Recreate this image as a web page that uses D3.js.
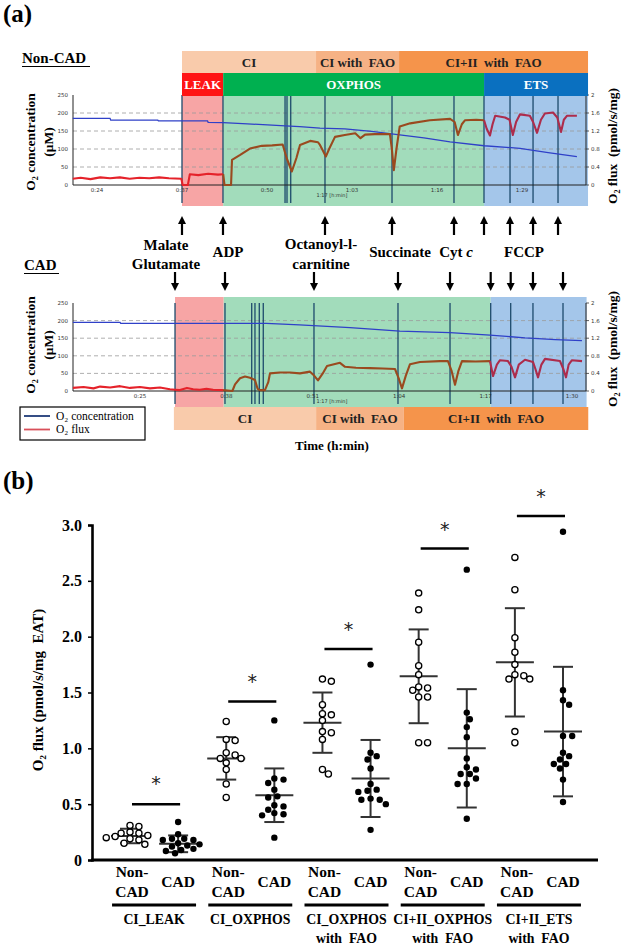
<!DOCTYPE html>
<html><head><meta charset="utf-8">
<script src="https://cdn.jsdelivr.net/npm/d3@7"></script>
<style>body{margin:0;background:#fff}svg{display:block}</style>
</head><body>
<svg id="c" width="625" height="945"></svg>
<script>
// ---------------- Panel (a) data (time in minutes) ----------------
const concTicks = [0, 50, 100, 150, 200, 250];
const fluxTicks = [0, 0.4, 0.8, 1.2, 1.6, 2];

// Non-CAD trace
const topTimeTicks = [24, 37, 50, 63, 76, 89];
const topConc = [[20.3,185],[26.0,185],[26.1,180],[33.3,180],[33.4,178],[40.9,178],[41.0,174],[43.3,173],[47,170],[52.8,164],[55.0,162],[58.1,158],[61.9,156],[66,149],[70.3,139],[74,131],[78.0,120],[83.2,109],[88.7,102],[93,90],[97.4,79]];
const topFluxLeak = [[20.3,0.14],[21.5,0.16],[23,0.13],[24.5,0.17],[26,0.15],[27.5,0.17],[29,0.14],[30.5,0.16],[32,0.15],[33.5,0.17],[35,0.15],[36.9,0.14],[37.1,0.0],[37.9,0.0],[38.2,0.24],[39.5,0.22],[41,0.25],[42.5,0.23],[43.3,0.24]];
const topFluxOxphos = [[43.3,0.24],[43.5,0.0],[44.5,0.0],[44.65,0.56],[45.9,0.67],[47.4,0.81],[49.2,0.87],[50.8,0.88],[52.4,0.90],[53.0,0.6],[53.8,0.30],[54.5,0.6],[55.05,0.89],[56.6,0.98],[57.8,0.95],[58.1,0.89],[58.6,0.75],[59.0,0.63],[59.5,0.8],[60.4,1.07],[61.9,1.11],[63.5,1.15],[64.3,1.04],[65.0,1.12],[66.5,1.13],[68.8,1.13],[69.1,0.8],[69.4,0.33],[69.8,0.8],[70.3,1.30],[71.9,1.37],[74.9,1.44],[78.0,1.47],[78.7,1.40],[79.2,1.11],[79.8,1.35],[80.3,1.44],[82,1.45],[83.2,1.44]];
const topFluxEts = [[83.2,1.44],[83.6,1.25],[84.1,1.10],[84.5,1.35],[84.9,1.54],[86.4,1.50],[87.1,1.45],[87.6,1.11],[88.1,1.40],[88.7,1.57],[90.2,1.54],[90.7,1.40],[91.3,1.16],[91.9,1.45],[92.5,1.59],[93.75,1.61],[94.4,1.50],[94.97,1.18],[95.4,1.45],[95.9,1.54],[97.4,1.54]];
const topEvents = [37.0, 43.27, 58.87, 69.12, 78.60, 83.19, 87.17, 90.69, 94.51];
const topExtraEvents = [52.76, 53.06, 53.63];
const topPhaseBounds = [37.0, 43.3, 83.2, 99.1];
const topBandBounds = [37.0, 57.5, 70.2, 99.1];

// CAD trace
const botTimeTicks = [25, 38, 51, 64, 77, 90];
const botConc = [[14.9,195],[22,195],[22.1,192],[44,192],[46.5,190],[49,188],[56.6,180],[64.1,170],[71.65,166],[77.66,159],[82.93,151],[87.5,146],[91.5,143]];
const botFluxLeak = [[14.9,0.07],[16.5,0.09],[18,0.06],[19,0.10],[20.5,0.08],[22,0.11],[23.5,0.07],[25,0.09],[26.5,0.06],[28,0.08],[29.5,0.04],[30.3,0.03],[31,0.02],[32.07,0.07],[33,0.04],[34,0.03],[35,0.05],[36,0.03],[37.5,0.02]];
const botFluxOxphos = [[37.5,0.02],[38.9,0.0],[39.3,0.15],[40.05,0.29],[40.8,0.33],[41.55,0.30],[42.3,0.25],[42.7,0.05],[43.06,0.02],[43.8,0.02],[44.3,0.2],[44.56,0.40],[46,0.42],[47.57,0.42],[49.07,0.40],[50.58,0.44],[51.2,0.35],[51.78,0.24],[52.5,0.4],[53.14,0.57],[55.09,0.64],[55.85,0.55],[57.5,0.53],[59.61,0.52],[61.5,0.51],[63.37,0.50],[63.9,0.3],[64.42,0.06],[65,0.35],[65.63,0.61],[67.13,0.66],[70.14,0.68],[71.34,0.68],[71.9,0.45],[72.4,0.14],[72.9,0.45],[73.45,0.68],[75.5,0.67],[77.66,0.68]];
const botFluxEts = [[77.66,0.68],[78.12,0.34],[78.7,0.6],[79.17,0.70],[80.37,0.68],[80.9,0.55],[81.43,0.31],[82,0.6],[82.93,0.71],[84.13,0.66],[84.5,0.5],[84.89,0.31],[85.4,0.6],[85.94,0.73],[88.2,0.68],[88.7,0.5],[89.1,0.31],[89.5,0.6],[90,0.70],[91.51,0.68]];
const botEvents = [30.27, 37.79, 51.18, 63.82, 71.65, 77.77, 80.78, 84.13, 88.65];
const botExtraEvents = [41.81, 42.30, 42.95, 43.55];
const botPhaseBounds = [30.27, 37.6, 77.77, 92.2];
const botBandBounds = [30.1, 51.5, 64.7, 92.45];

const phaseNames = ["LEAK", "OXPHOS", "ETS"];
const bandNames = ["CI", "CI with  FAO", "CI+II  with  FAO"];

// ---------------- Panel (b) data ----------------
const groupLine1 = ["CI_LEAK", "CI_OXPHOS", "CI_OXPHOS", "CI+II_OXPHOS", "CI+II_ETS"];
const groupLine2 = ["", "", "with  FAO", "with  FAO", "with  FAO"];
const nonCadValues = [
  [0.31,0.30,0.25,0.24,0.24,0.22,0.21,0.20,0.19,0.18,0.15,0.14],
  [1.24,1.08,1.07,0.96,0.94,0.91,0.91,0.87,0.81,0.68,0.56],
  [1.62,1.60,1.39,1.31,1.30,1.25,1.15,1.14,1.08,0.81,0.77],
  [2.39,2.24,1.95,1.74,1.66,1.55,1.54,1.52,1.46,1.46,1.05,1.05],
  [2.71,2.42,1.99,1.86,1.75,1.66,1.65,1.62,1.62,1.15,1.05]
];
const cadValues = [
  [0.34,0.23,0.19,0.19,0.18,0.18,0.15,0.14,0.13,0.12,0.10,0.09,0.08,0.06],
  [1.25,0.73,0.72,0.69,0.63,0.57,0.56,0.49,0.48,0.45,0.42,0.41,0.40,0.20],
  [1.75,0.96,0.93,0.90,0.82,0.68,0.63,0.62,0.61,0.55,0.54,0.54,0.50,0.27],
  [2.60,1.32,1.26,1.19,1.10,0.91,0.83,0.81,0.77,0.77,0.73,0.68,0.68,0.37],
  [2.94,1.52,1.43,1.39,1.11,1.11,0.96,0.93,0.90,0.86,0.86,0.82,0.72,0.52]
];
const nonCadMean = [0.215, 0.91, 1.23, 1.645, 1.77];
const nonCadSD   = [0.065, 0.19, 0.27, 0.42, 0.485];
const cadMean    = [0.145, 0.58, 0.73, 1.00, 1.15];
const cadSD      = [0.075, 0.24, 0.345, 0.53, 0.58];
const sigBar     = [0.50, 1.42, 1.89, 2.79, 3.08];
const sigStar    = [0.72, 1.63, 2.10, 2.99, 3.29];
const yTicksB    = [0, 0.5, 1.0, 1.5, 2.0, 2.5, 3.0];

// ---------------- Drawing ----------------
const SERIF = 'Liberation Serif, Times New Roman, Times, serif';
const SANS = 'DejaVu Sans, sans-serif';
const svg = d3.select('#c');
svg.append('rect').attr('width', 625).attr('height', 945).attr('fill', '#fff');

function fmtTime(t) { return Math.floor(t / 60) + ':' + String(t % 60).padStart(2, '0'); }

const shadeCols = ['#f7a5a5', '#a2dcbb', '#a4c6ea'];
const headerCols = ['#ff1414', '#00b050', '#0a70c0'];
const bandCols = ['#f9cbab', '#f6b285', '#f5944b'];
const fluxCols = ['#e5222a', '#9a4a1f', '#ad2c4c'];
const concCol = '#2f40c8';
const eventCol = '#1d4a6c';

function drawTrace(c) {
  const g = svg.append('g');
  const x = d3.scaleLinear().domain(c.tDomain).range([73, 586]);
  const yC = d3.scaleLinear().domain([0, 250]).range([c.yBase, c.yTop]);
  const yF = d3.scaleLinear().domain([0, 2]).range([c.yBase, c.yTop]);
  for (let i = 0; i < 3; i++) {
    g.append('rect').attr('x', x(c.phases[i])).attr('y', c.shadeTop)
      .attr('width', x(c.phases[i + 1]) - x(c.phases[i])).attr('height', c.shadeBottom - c.shadeTop)
      .attr('fill', shadeCols[i]);
  }
  g.selectAll('.grid').data(concTicks.slice(1, 5)).join('line')
    .attr('x1', 73).attr('x2', 586).attr('y1', d => yC(d)).attr('y2', d => yC(d))
    .attr('stroke', '#9a9a9a').attr('stroke-width', 0.8).attr('stroke-dasharray', '4,3');
  g.selectAll('.ev').data(c.events.concat(c.extra)).join('line')
    .attr('x1', d => x(d)).attr('x2', d => x(d)).attr('y1', c.yTop).attr('y2', c.shadeBottom - 3)
    .attr('stroke', eventCol).attr('stroke-width', 1.3);
  g.append('line').attr('x1', 73).attr('x2', 73).attr('y1', c.yTop).attr('y2', c.yBase).attr('stroke', '#222').attr('stroke-width', 1);
  g.append('line').attr('x1', 586).attr('x2', 586).attr('y1', c.yTop).attr('y2', c.yBase).attr('stroke', '#222').attr('stroke-width', 1);
  g.append('line').attr('x1', 73).attr('x2', 586).attr('y1', c.yBase).attr('y2', c.yBase).attr('stroke', '#222').attr('stroke-width', 1);
  g.selectAll('.lt').data(concTicks).join('text')
    .attr('x', 68).attr('y', d => yC(d) + 2).attr('text-anchor', 'end')
    .attr('font-family', SANS).attr('font-size', 5.5).attr('fill', '#333').text(d => d);
  g.selectAll('.rt').data(fluxTicks).join('text')
    .attr('x', 591).attr('y', d => yF(d) + 2).attr('text-anchor', 'start')
    .attr('font-family', SANS).attr('font-size', 5.5).attr('fill', '#333').text(d => d);
  g.selectAll('.rtk').data(fluxTicks).join('line')
    .attr('x1', 586).attr('x2', 589).attr('y1', d => yF(d)).attr('y2', d => yF(d)).attr('stroke', '#333').attr('stroke-width', 0.8);
  g.selectAll('.tt').data(c.timeTicks).join('text')
    .attr('x', d => x(d)).attr('y', c.yBase + 7).attr('text-anchor', 'middle')
    .attr('font-family', SANS).attr('font-size', 5.5).attr('fill', '#333').text(d => fmtTime(d));
  g.append('text').attr('x', 332).attr('y', c.yBase + 12).attr('text-anchor', 'middle')
    .attr('font-family', SANS).attr('font-size', 5).attr('fill', '#333').text('1:17 [h:min]');
  const lineC = d3.line().x(d => x(d[0])).y(d => yC(d[1]));
  const lineF = d3.line().x(d => x(d[0])).y(d => yF(d[1]));
  g.append('path').attr('d', lineC(c.conc)).attr('fill', 'none').attr('stroke', concCol).attr('stroke-width', 1.3);
  c.flux.forEach((f, i) => {
    g.append('path').attr('d', lineF(f)).attr('fill', 'none').attr('stroke', fluxCols[i])
      .attr('stroke-width', 2.1).attr('stroke-linejoin', 'round');
  });
  g.append('text').attr('transform', `translate(35,${c.titleY}) rotate(-90)`)
    .attr('text-anchor', 'middle').attr('font-family', SERIF).attr('font-weight', 'bold').attr('font-size', 13.5)
    .text('O₂ concentration');
  g.append('text').attr('transform', `translate(53,${c.titleY}) rotate(-90)`)
    .attr('text-anchor', 'middle').attr('font-family', SERIF).attr('font-weight', 'bold').attr('font-size', 13.5).text('(μM)');
  g.append('text').attr('transform', `translate(617,${c.titleY + 4}) rotate(-90)`)
    .attr('text-anchor', 'middle').attr('font-family', SERIF).attr('font-weight', 'bold').attr('font-size', 13.5)
    .style('white-space', 'pre').text('O₂ flux  (pmol/s/mg)');
  function bandRow(bounds, names, cols, y0, y1, txtCol) {
    for (let i = 0; i < names.length; i++) {
      g.append('rect').attr('x', x(bounds[i])).attr('y', y0).attr('width', x(bounds[i + 1]) - x(bounds[i]))
        .attr('height', y1 - y0).attr('fill', cols[i]);
      g.append('text').attr('x', (x(bounds[i]) + x(bounds[i + 1])) / 2).attr('y', (y0 + y1) / 2 + 4.5)
        .attr('text-anchor', 'middle').attr('font-family', SERIF).attr('font-weight', 'bold')
        .attr('font-size', 13).attr('fill', txtCol).style('white-space', 'pre').text(names[i]);
    }
  }
  if (c.header) bandRow(c.phases, phaseNames, headerCols, c.header[0], c.header[1], '#fff');
  bandRow(c.bands, bandNames, bandCols, c.bandY[0], c.bandY[1], '#222');
  return x;
}

const xTop = drawTrace({ tDomain: [20.33, 98.79], yBase: 185, yTop: 95, shadeTop: 96, shadeBottom: 206,
  phases: topPhaseBounds, bands: topBandBounds, bandY: [51, 73], header: [73, 96],
  events: topEvents, extra: topExtraEvents, timeTicks: topTimeTicks, conc: topConc,
  flux: [topFluxLeak, topFluxOxphos, topFluxEts], titleY: 142 });
const xBot = drawTrace({ tDomain: [14.92, 92.11], yBase: 391, yTop: 303, shadeTop: 297, shadeBottom: 407,
  phases: botPhaseBounds, bands: botBandBounds, bandY: [407, 430], header: null,
  events: botEvents, extra: botExtraEvents, timeTicks: botTimeTicks, conc: botConc,
  flux: [botFluxLeak, botFluxOxphos, botFluxEts], titleY: 345 });

function arrow(xp, yTail, yTip) {
  const dir = yTip < yTail ? -1 : 1;
  svg.append('line').attr('x1', xp).attr('x2', xp).attr('y1', yTail).attr('y2', yTip - dir * 5)
    .attr('stroke', '#000').attr('stroke-width', 2.2);
  svg.append('path').attr('d', `M${xp},${yTip} L${xp - 4},${yTip - dir * 8} L${xp + 4},${yTip - dir * 8} Z`).attr('fill', '#000');
}
topEvents.forEach(t => arrow(xTop(t), 235, 216));
botEvents.forEach(t => arrow(xBot(t), 272, 291));

function label(xp, yp, txt, size, anchor) {
  return svg.append('text').attr('x', xp).attr('y', yp).attr('text-anchor', anchor || 'middle')
    .attr('font-family', SERIF).attr('font-weight', 'bold').attr('font-size', size).attr('fill', '#000').text(txt);
}
label(3, 22, '(a)', 25, 'start');
label(22, 63, 'Non-CAD', 15, 'start');
svg.append('line').attr('x1', 22).attr('x2', 90).attr('y1', 66.5).attr('y2', 66.5).attr('stroke', '#000').attr('stroke-width', 1.2);
label(24, 270, 'CAD', 15, 'start');
svg.append('line').attr('x1', 24).attr('x2', 59).attr('y1', 273.5).attr('y2', 273.5).attr('stroke', '#000').attr('stroke-width', 1.2);
label(166, 250, 'Malate', 15);
label(166, 269, 'Glutamate', 15);
label(228, 257, 'ADP', 15);
label(321, 249, 'Octanoyl-l-', 15);
label(321, 269, 'carnitine', 15);
label(400, 257, 'Succinate', 15);
const cyt = label(456, 257, 'Cyt ', 15).style('white-space', 'pre');
cyt.append('tspan').attr('font-style', 'italic').text('c');
label(524, 257, 'FCCP', 15);
label(332, 450, 'Time (h:min)', 13);

// legend
svg.append('rect').attr('x', 20).attr('y', 407).attr('width', 125).attr('height', 33)
  .attr('fill', '#fff').attr('stroke', '#000').attr('stroke-width', 1.2);
svg.append('line').attr('x1', 24).attr('x2', 50).attr('y1', 416).attr('y2', 416).attr('stroke', '#1f3a78').attr('stroke-width', 1.8);
svg.append('line').attr('x1', 24).attr('x2', 50).attr('y1', 429.5).attr('y2', 429.5).attr('stroke', '#d9505a').attr('stroke-width', 1.8);
svg.append('text').attr('x', 56).attr('y', 419.5).attr('font-family', SERIF).attr('font-size', 11.5).text('O₂ concentration');
svg.append('text').attr('x', 56).attr('y', 433).attr('font-family', SERIF).attr('font-size', 11.5).text('O₂ flux');

// ---------------- Panel (b) ----------------
label(3, 489, '(b)', 25, 'start');
const keys = [];
groupLine1.forEach((g, i) => { keys.push(i + '-N'); keys.push(i + '-C'); });
const xB = d3.scalePoint().domain(keys).range([130, 563]);
const yB = d3.scaleLinear().domain([0, 3]).range([860, 525]);

const yAxis = svg.append('g').attr('transform', 'translate(92,0)')
  .call(d3.axisLeft(yB).tickValues(yTicksB).tickSize(4).tickPadding(6).tickFormat(d => d === 0 ? '0' : d3.format('.1f')(d)));
yAxis.select('.domain').attr('stroke', '#000').attr('stroke-width', 2.6);
yAxis.selectAll('.tick line').attr('stroke', '#000').attr('stroke-width', 1.5);
yAxis.selectAll('.tick text').attr('font-family', SERIF).attr('font-weight', 'bold').attr('font-size', 16).attr('fill', '#000');
svg.append('line').attr('x1', 91).attr('x2', 598).attr('y1', 860).attr('y2', 860).attr('stroke', '#000').attr('stroke-width', 3);

svg.append('text').attr('transform', 'translate(43,690) rotate(-90)').attr('text-anchor', 'middle')
  .attr('font-family', SERIF).attr('font-weight', 'bold').attr('font-size', 15).style('white-space', 'pre')
  .text('O₂ flux (pmol/s/mg  EAT)');

function dodge(vals, cx, r) {
  const pts = vals.map(v => ({ v, y: yB(v) })).sort((a, b) => a.y - b.y);
  const placed = [];
  const minD = 2 * r + 0.4;
  const step = minD * 0.45;
  pts.forEach(p => {
    for (let k = 0; k < 40; k++) {
      const off = k === 0 ? 0 : (k % 2 ? 1 : -1) * Math.ceil(k / 2) * step;
      const xx = cx + off;
      if (placed.every(q => Math.hypot(q.x - xx, q.y - p.y) >= minD)) { p.x = xx; placed.push(p); break; }
    }
  });
  return placed;
}

function errBar(cx, m, sd) {
  const col = '#333', w = 2;
  svg.append('line').attr('x1', cx).attr('x2', cx).attr('y1', yB(m + sd)).attr('y2', yB(Math.max(0, m - sd))).attr('stroke', col).attr('stroke-width', w);
  svg.append('line').attr('x1', cx - 10).attr('x2', cx + 10).attr('y1', yB(m + sd)).attr('y2', yB(m + sd)).attr('stroke', col).attr('stroke-width', w);
  svg.append('line').attr('x1', cx - 10).attr('x2', cx + 10).attr('y1', yB(m - sd)).attr('y2', yB(m - sd)).attr('stroke', col).attr('stroke-width', w);
  svg.append('line').attr('x1', cx - 19).attr('x2', cx + 19).attr('y1', yB(m)).attr('y2', yB(m)).attr('stroke', col).attr('stroke-width', w);
}

groupLine1.forEach((gname, i) => {
  const xn = xB(i + '-N'), xc = xB(i + '-C');
  errBar(xn, nonCadMean[i], nonCadSD[i]);
  errBar(xc, cadMean[i], cadSD[i]);
  dodge(nonCadValues[i], xn, 3.1).forEach(p => {
    svg.append('circle').attr('cx', p.x).attr('cy', p.y).attr('r', 3.1).attr('fill', '#fff').attr('stroke', '#000').attr('stroke-width', 1.3);
  });
  dodge(cadValues[i], xc, 3.2).forEach(p => {
    svg.append('circle').attr('cx', p.x).attr('cy', p.y).attr('r', 3.2).attr('fill', '#000');
  });
  svg.append('line').attr('x1', xn + 2).attr('x2', xc + 2).attr('y1', yB(sigBar[i])).attr('y2', yB(sigBar[i])).attr('stroke', '#000').attr('stroke-width', 2.5);
  svg.append('text').attr('x', (xn + xc) / 2 + 2).attr('y', yB(sigStar[i]) + 10).attr('text-anchor', 'middle')
    .attr('font-family', SANS).attr('font-size', 19).attr('fill', '#222').style('font-variant-emoji', 'text').text('*\uFE0E');
  label(xn + 2, 877, 'Non-', 15.5);
  label(xn + 2, 897, 'CAD', 15.5);
  label(xc, 887, 'CAD', 15.5);
  const mid = (xn + xc) / 2;
  svg.append('line').attr('x1', mid - 42).attr('x2', mid + 42).attr('y1', 905).attr('y2', 905).attr('stroke', '#000').attr('stroke-width', 3);
  label(mid, 924, gname, 13.8);
  if (groupLine2[i]) label(mid, 943, groupLine2[i], 13.8).style('white-space', 'pre');
});
</script>
</body></html>
